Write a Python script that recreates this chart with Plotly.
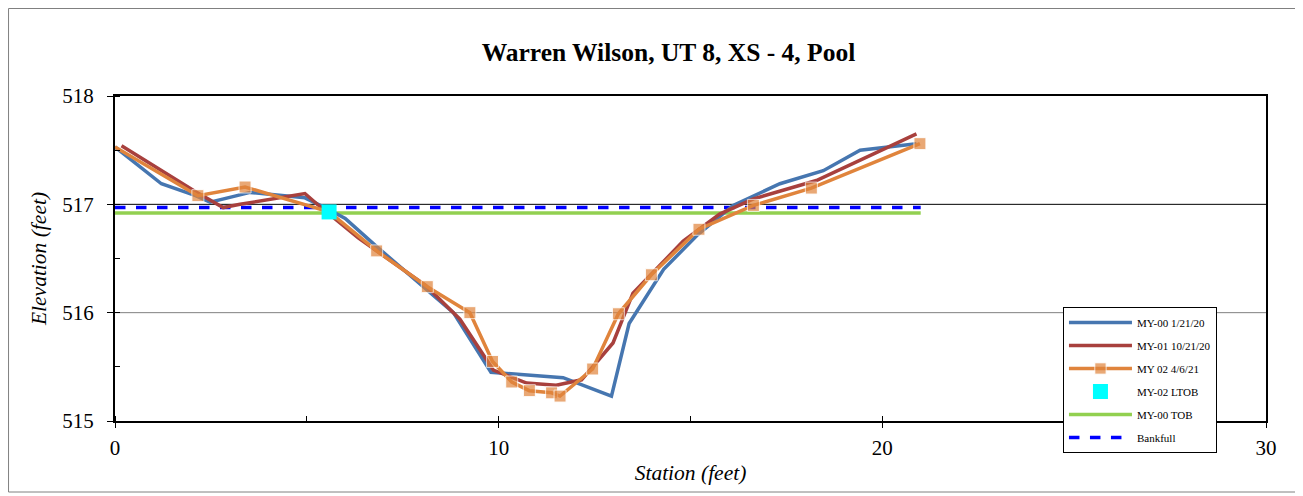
import plotly.graph_objects as go

# ---- data ----
my00_station = [0, 1.21, 2.1, 2.48, 3.52, 4.95, 5.58, 6.0, 6.82, 8.82, 9.8, 11.07, 11.68, 12.94, 13.4, 14.3, 15.16, 16.11, 17.33, 18.46, 19.42, 20.89]
my00_elev = [517.53, 517.19, 517.08, 517.02, 517.11, 517.06, 516.95, 516.87, 516.61, 516.0, 515.45, 515.42, 515.4, 515.23, 515.9, 516.4, 516.71, 516.99, 517.19, 517.31, 517.5, 517.56]

my01_station = [0.17, 2.08, 2.82, 3.26, 4.95, 5.34, 6.34, 8.1, 8.99, 9.86, 10.73, 11.5, 12.16, 12.98, 13.5, 14.03, 14.81, 15.76, 16.64, 18.28, 20.89]
my01_elev = [517.54, 517.12, 516.97, 517.0, 517.1, 516.98, 516.69, 516.25, 515.94, 515.47, 515.35, 515.33, 515.38, 515.72, 516.18, 516.37, 516.66, 516.91, 517.05, 517.22, 517.65]

my02_station = [0, 2.16, 3.39, 5.58, 6.82, 8.14, 9.25, 9.84, 10.34, 10.8, 11.38, 11.6, 12.45, 13.12, 13.98, 15.22, 16.64, 18.15, 20.98]
my02_elev = [517.53, 517.08, 517.16, 516.93, 516.57, 516.24, 516.0, 515.55, 515.36, 515.28, 515.26, 515.23, 515.48, 515.99, 516.35, 516.77, 516.99, 517.15, 517.56]

ltob_station = [5.58]
ltob_elev = [516.93]

tob_station = [0, 21]
tob_elev = [516.92, 516.92]

bankfull_station = [0, 21]
bankfull_elev = [516.97, 516.97]

x_ticks = [0, 10, 20, 30]
y_ticks = [515, 516, 517, 518]

FONT = "Liberation Serif, Times New Roman, serif"

fig = go.Figure()

fig.add_trace(go.Scatter(x=tob_station, y=tob_elev, mode="lines", name="MY-00 TOB",
                         line=dict(color="#92D050", width=3.5), legendrank=5, legendgroup="g5"))
fig.add_trace(go.Scatter(x=bankfull_station, y=bankfull_elev, mode="lines", name="Bankfull",
                         line=dict(color="#0000FF", width=3.5, dash="dash"), legendrank=6, legendgroup="g6"))
fig.add_trace(go.Scatter(x=my00_station, y=my00_elev, mode="lines", name="MY-00 1/21/20",
                         line=dict(color="#4676B0", width=3.5), legendrank=1, legendgroup="g1"))
fig.add_trace(go.Scatter(x=my01_station, y=my01_elev, mode="lines", name="MY-01 10/21/20",
                         line=dict(color="#A8403D", width=3.5), legendrank=2, legendgroup="g2"))
msizes = [0] + [12] * (len(my02_station) - 1)
fig.add_trace(go.Scatter(x=my02_station, y=my02_elev, mode="lines+markers", name="MY 02 4/6/21",
                         line=dict(color="#E0843C", width=3.5),
                         marker=dict(symbol="square", size=msizes, color="#E0843C"),
                         legendrank=3, legendgroup="g3"))
fig.add_trace(go.Scatter(x=ltob_station, y=ltob_elev, mode="markers", name="MY-02 LTOB",
                         marker=dict(symbol="square", size=15, color="#00FFFF"),
                         legendrank=4, legendgroup="g4"))

# horizontal gridlines (517 drawn black, others grey, as in source)
for v in y_ticks[1:-1]:
    fig.add_hline(y=v, line=dict(color="black" if v == 517 else "#808080", width=1), layer="below")

# outer chart border
fig.add_shape(type="rect", xref="paper", yref="paper",
              x0=-0.0925, x1=1.0261, y0=-0.2185, y1=1.2692,
              line=dict(color="#808080", width=1))

fig.update_layout(
    width=1295, height=488,
    margin=dict(l=107, r=37, t=88, b=75),
    paper_bgcolor="white", plot_bgcolor="white",
    font=dict(family=FONT, color="black"),
    title=dict(text="<b>Warren Wilson, UT 8, XS - 4, Pool</b>", x=0.51, xanchor="center",
               y=0.91, yanchor="middle", font=dict(size=25.5, family=FONT)),
    showlegend=True,
    legend=dict(x=0.8236, y=0.3508, xanchor="left", yanchor="top",
                bgcolor="white", bordercolor="black", borderwidth=1,
                font=dict(size=11, family=FONT), tracegroupgap=4, itemwidth=63),
    xaxis=dict(range=[0, 30], tickvals=x_ticks, ticks="outside", ticklen=5, tickcolor="black",
               showline=True, linecolor="black", linewidth=2, mirror=True,
               showgrid=False, zeroline=False, ticklabelstandoff=2,
               tickfont=dict(size=21, family=FONT),
               minor=dict(dtick=5, ticks="inside", ticklen=5, tickcolor="black", showgrid=False),
               title=dict(text="<i>Station (feet)</i>", font=dict(size=21.5, family=FONT), standoff=6)),
    yaxis=dict(range=[515, 518], tickvals=y_ticks, ticks="outside", ticklen=6, tickcolor="black",
               showline=True, linecolor="black", linewidth=2, mirror=True,
               showgrid=False, zeroline=False,
               ticklabelstandoff=9,
               tickfont=dict(size=21, family=FONT),
               minor=dict(dtick=0.5, ticks="inside", ticklen=5, tickcolor="black", showgrid=False),
               title=dict(text="<i>Elevation (feet)</i>", font=dict(size=21.5, family=FONT), standoff=10)),
)

fig.write_html("out.html")
